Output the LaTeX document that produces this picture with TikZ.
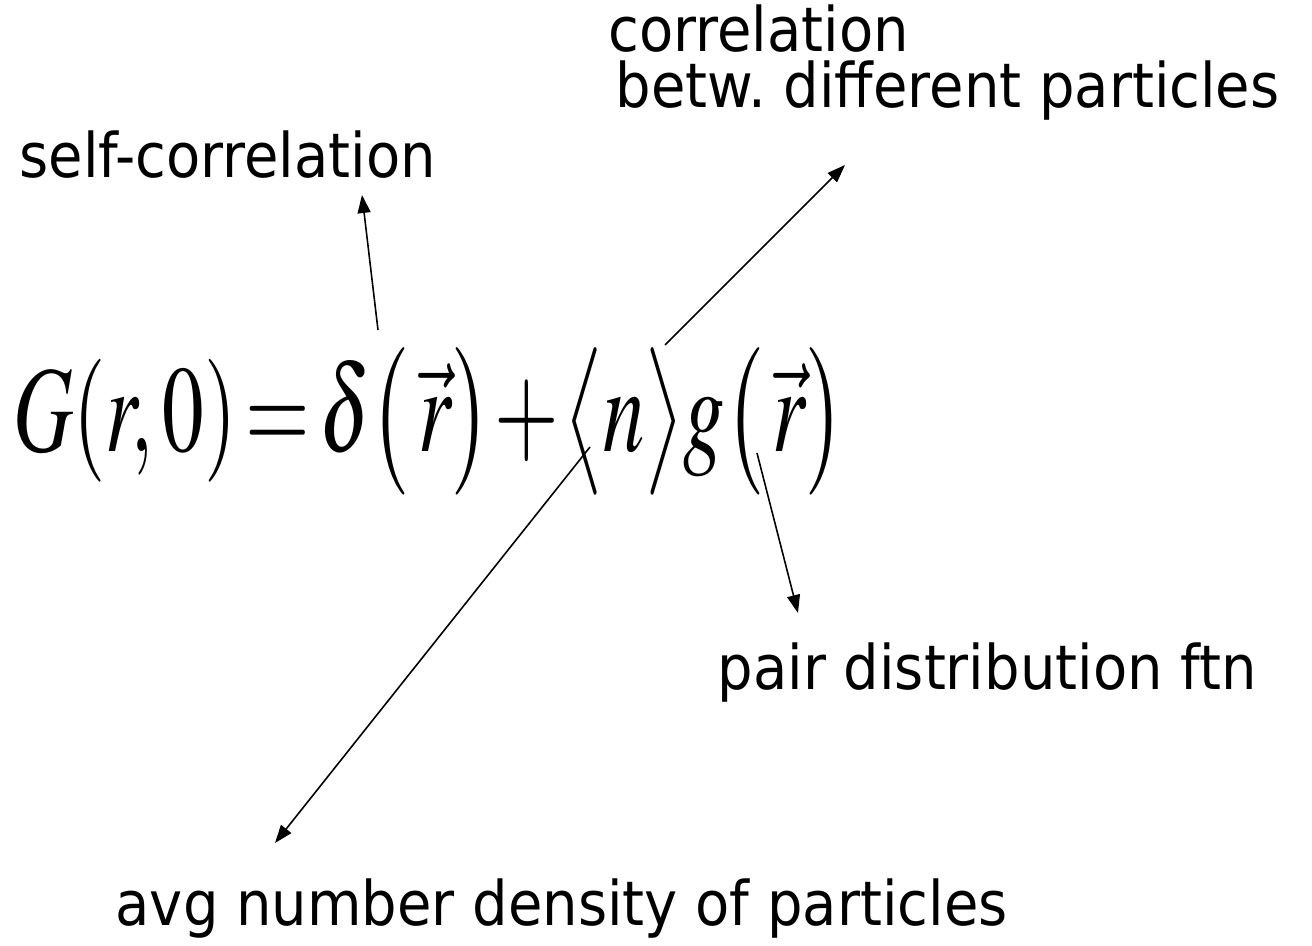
\documentclass[tikz,border=0pt]{standalone}
\usepackage{amsmath}
\usepackage{mathptmx}
\usepackage[no-math]{fontspec}
\setmainfont{DejaVu Sans}
\usepackage{tikz}
\usetikzlibrary{arrows.meta, positioning, calc}
\frenchspacing

\begin{document}
\begin{tikzpicture}[
  lbl/.style={inner sep=0pt, anchor=base west, xscale=0.91, font=\fontsize{17.5}{21}\selectfont},
  ptr/.style={line width=0.45pt, -{Triangle[length=1.8mm, width=1.3mm]}}
]
  \useasboundingbox (0,0) rectangle (13.12,9.46);
  \node[inner sep=0pt, anchor=base west, xscale=0.675, font=\fontsize{35}{40}\selectfont] (eqn) at (0.13, 4.94)
    {$\thickmuskip=2mu \medmuskip=1mu
      G(r,0)=\delta\bigl(\,\vec r\bigr)+\bigl\langle n\bigr\rangle g\bigl(\,\vec r\bigr)$};
  \node[lbl] (selflbl) at (0.19, 7.68) {self-correlation};
  \node[lbl] (corrlbl) at (6.08, 8.94) {correlation};
  \node[lbl] (betwlbl) at ([xshift=0.07cm, yshift=-0.56cm]corrlbl.base west) {betw. different particles};
  \node[lbl] (pairlbl) at (7.17, 2.56) {pair distribution ftn};
  \node[lbl] (avglbl) at (1.15, 0.20) {avg number density of particles};
  % arrow ends
  \coordinate (deltaend) at (3.78, 6.16);
  \coordinate (selfend) at (3.62, 7.51);
  \coordinate (plusend) at (6.65, 6.01);
  \coordinate (corrend) at (8.45, 7.81);
  \coordinate (nend) at (5.90, 4.99);
  \coordinate (avgend) at (2.75, 1.03);
  \coordinate (gend) at (7.57, 4.93);
  \coordinate (pairend) at (7.98, 3.33);
  \draw[ptr] (deltaend) -- (selfend);
  \draw[ptr] (plusend) -- (corrend);
  \draw[ptr] (nend) -- (avgend);
  \draw[ptr] (gend) -- (pairend);
\end{tikzpicture}
\end{document}
